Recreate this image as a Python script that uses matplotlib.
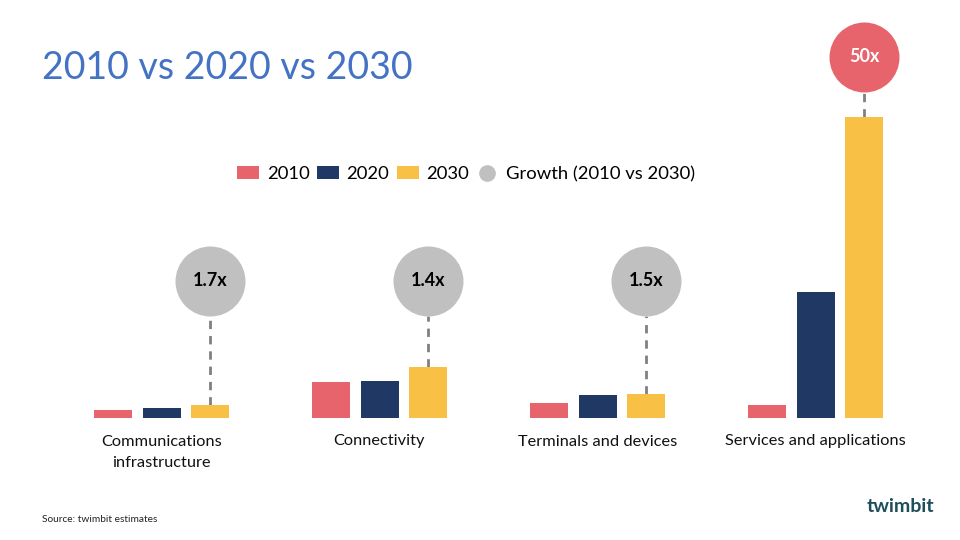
import matplotlib
matplotlib.use("Agg")
import matplotlib.pyplot as plt
from matplotlib.patches import Patch
from matplotlib.lines import Line2D
import numpy as np

plt.rcParams['font.family'] = ['Lato', 'DejaVu Sans']

categories = ["Communications\ninfrastructure", "Connectivity",
              "Terminals and devices", "Services and applications"]
years = ["2010", "2020", "2030"]
v2010 = [7.5, 36, 15, 12.5]
v2020 = [10, 37, 23, 126]
v2030 = [12.5, 51, 23.5, 301]
growth = ["1.7x", "1.4x", "1.5x", "50x"]
highlight = [False, False, False, True]

colors = ["#e8646c", "#203864", "#f8c146"]
grey = "#c0c0c0"

fig = plt.figure(figsize=(9.6, 5.4), dpi=100)
ax = fig.add_axes([0, 0, 1, 1])
ax.set_xlim(-161.5 / 218, (960 - 161.5) / 218)
ax.set_ylim(-122.5, 417.5)
ax.axis("off")

x = np.arange(len(categories))
step = 48.5 / 218
width = 38 / 218
for i, (vals, c) in enumerate(zip([v2010, v2020, v2030], colors)):
    ax.bar(x + (i - 1) * step, vals, width=width, color=c, linewidth=0, zorder=2)

label_level = 136.5
gap = 59.5
radius = 35
for xi, top, g, hl in zip(x, v2030, growth, highlight):
    cy = max(label_level, top + gap)
    xc = xi + step
    ax.plot([xc, xc], [top, cy - radius], color="#808080", lw=2,
            linestyle=(0, (3, 2.5)), zorder=1)
    ax.scatter([xc], [cy], s=(2 * radius * 0.72) ** 2,
               color=colors[0] if hl else grey, linewidths=0, zorder=3)
    ax.text(xc, cy, g, ha="center", va="center", fontsize=13, fontweight="bold",
            color="white" if hl else "black", zorder=4)

for xi, cat in zip(x, categories):
    ax.text(xi, -17, cat, ha="center", va="top", fontsize=11.8,
            linespacing=1.65, color="#111111")

fig.text(42 / 960, 1 - 68 / 540, "2010 vs 2020 vs 2030", fontsize=27,
         color="#4472c4", ha="left", va="center")

handles = [Patch(facecolor=c, edgecolor="none") for c in colors]
handles.append(Line2D([], [], marker="o", linestyle="none", markersize=12,
                      markerfacecolor=grey, markeredgecolor="none"))
labels = years + ["Growth (2010 vs 2030)"]
fig.legend(handles, labels, loc="center", bbox_to_anchor=(466 / 960, 1 - 174 / 540),
           ncol=4, frameon=False, fontsize=13.3, handlelength=1.2, handleheight=0.7,
           handletextpad=0.4, columnspacing=0.4)

fig.text(42 / 960, 1 - 520 / 540, "Source: twimbit estimates", fontsize=7.3,
         color="#222222", ha="left", va="center")
fig.text(900 / 960, 1 - 507 / 540, "twimbit", fontsize=14, fontweight="bold",
         color="#1d4e5c", ha="center", va="center")

fig.savefig("out.png", dpi=100)
